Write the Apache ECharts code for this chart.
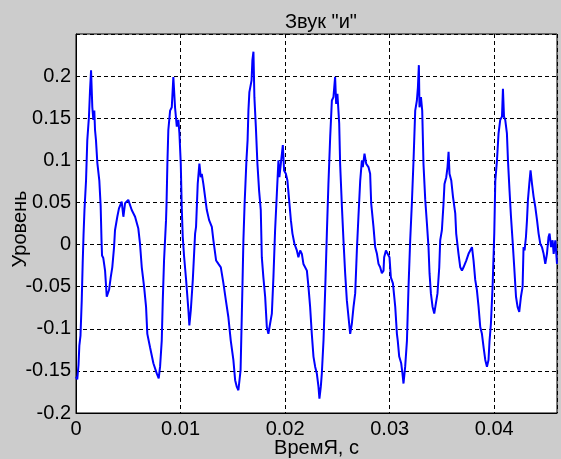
<!DOCTYPE html>
<html>
<head>
<meta charset="utf-8">
<script src="https://cdn.jsdelivr.net/npm/echarts@6/dist/echarts.min.js"></script>
<style>
html,body{margin:0;padding:0;background:#cccccc;}
#chart{width:561px;height:459px;}
</style>
</head>
<body>
<div id="chart"></div>
<script>
const titleText = 'Звук "и"';
const xName = 'ВремЯ, с';
const yName = 'Уровень';
const xTicks = [0, 0.01, 0.02, 0.03, 0.04];
const yTicks = [-0.2, -0.15, -0.1, -0.05, 0, 0.05, 0.1, 0.15, 0.2];

// time in milliseconds
const timeMs = [
0, 0.12, 0.24, 0.32, 0.43, 0.55, 0.64, 0.72, 0.81, 0.96,
1.08, 1.24, 1.34, 1.44, 1.56, 1.66, 1.75, 1.82, 1.91, 2.04,
2.23, 2.36, 2.44, 2.49, 2.61, 2.78, 2.94, 3.16, 3.32, 3.47,
3.64, 3.73, 3.95, 4.11, 4.37, 4.53, 4.69, 5.00, 5.33, 5.65,
5.96, 6.12, 6.29, 6.51, 6.70, 6.82, 7.08, 7.40, 7.72, 7.91,
8.04, 8.20, 8.30, 8.42, 8.61, 8.66, 8.74, 8.83, 9.00, 9.16,
9.31, 9.47, 9.64, 9.79, 9.89, 10.02, 10.11, 10.21, 10.33, 10.53,
10.75, 10.84, 10.98, 11.17, 11.39, 11.48, 11.64, 11.80, 11.93, 12.03,
12.18, 12.34, 12.51, 12.73, 12.99, 13.14, 13.40, 13.62, 13.85, 14.10,
14.33, 14.57, 14.80, 15.05, 15.22, 15.38, 15.53, 15.65, 15.74, 15.86,
15.91, 16.01, 16.12, 16.30, 16.41, 16.49, 16.58, 16.72, 16.79, 16.87,
16.97, 17.06, 17.20, 17.35, 17.51, 17.67, 17.77, 17.92, 18.09, 18.25,
18.40, 18.56, 18.73, 18.88, 19.04, 19.21, 19.36, 19.45, 19.59, 19.78,
19.90, 20.07, 20.22, 20.38, 20.55, 20.70, 20.89, 21.12, 21.27, 21.44,
21.60, 21.75, 22.08, 22.23, 22.39, 22.55, 22.71, 22.87, 23.03, 23.19,
23.28, 23.41, 23.51, 23.67, 23.83, 23.99, 24.14, 24.31, 24.47, 24.62,
24.78, 24.88, 25.00, 25.17, 25.26, 25.43, 25.58, 25.74, 25.90, 26.06,
26.22, 26.38, 26.54, 26.70, 26.86, 27.01, 27.18, 27.34, 27.43, 27.59,
27.75, 27.97, 28.13, 28.23, 28.45, 28.61, 28.78, 28.93, 29.09, 29.25,
29.41, 29.47, 29.64, 29.83, 29.98, 30.11, 30.31, 30.53, 30.69, 30.77,
30.91, 31.10, 31.22, 31.32, 31.48, 31.65, 31.80, 31.96, 32.12, 32.28,
32.44, 32.60, 32.70, 32.79, 32.85, 32.99, 33.11, 33.23, 33.40, 33.56,
33.71, 33.81, 33.94, 34.10, 34.26, 34.45, 34.57, 34.74, 34.83, 34.99,
35.15, 35.24, 35.41, 35.53, 35.63, 35.72, 35.89, 36.05, 36.27, 36.36,
36.58, 36.75, 36.91, 37.06, 37.32, 37.54, 37.87, 38.02, 38.18, 38.34,
38.50, 38.66, 38.82, 38.98, 39.14, 39.30, 39.45, 39.55, 39.68, 39.84,
40.00, 40.10, 40.26, 40.41, 40.57, 40.74, 40.83, 40.93, 41.05, 41.21,
41.31, 41.46, 41.60, 41.75, 41.91, 42.08, 42.23, 42.39, 42.55, 42.71,
42.80, 42.90, 43.03, 43.13, 43.22, 43.35, 43.47, 43.61, 43.76, 43.92,
44.09, 44.24, 44.40, 44.56, 44.72, 44.88, 45.04, 45.19, 45.29, 45.43,
45.58, 45.68, 45.84, 46.00
];

const level = [
-0.157, -0.160, -0.143, -0.120, -0.108, -0.066, -0.022, 0.011, 0.041, 0.076,
0.124, 0.152, 0.183, 0.207, 0.163, 0.148, 0.159, 0.136, 0.124, 0.097,
0.076, 0.045, 0.005, -0.013, -0.016, -0.031, -0.062, -0.054, -0.039, -0.027,
-0.003, 0.017, 0.033, 0.043, 0.051, 0.033, 0.049, 0.053, 0.041, 0.033,
0.019, 0.001, -0.027, -0.050, -0.074, -0.106, -0.122, -0.141, -0.153, -0.159,
-0.145, -0.114, -0.066, -0.019, 0.029, 0.049, 0.096, 0.136, 0.159, 0.163,
0.199, 0.163, 0.140, 0.148, 0.132, 0.096, 0.045, 0.009, -0.013, -0.042,
-0.078, -0.096, -0.078, -0.042, 0.013, 0.021, 0.072, 0.096, 0.080, 0.084,
0.072, 0.057, 0.041, 0.029, 0.021, 0.005, -0.019, -0.023, -0.027, -0.046,
-0.066, -0.086, -0.114, -0.137, -0.161, -0.169, -0.173, -0.175, -0.149, -0.082,
-0.054, 0.005, 0.047, 0.100, 0.124, 0.159, 0.181, 0.183, 0.195, 0.219,
0.229, 0.175, 0.140, 0.096, 0.064, 0.041, -0.015, -0.039, -0.062, -0.098,
-0.106, -0.094, -0.082, -0.039, 0.017, 0.061, 0.100, 0.080, 0.096, 0.118,
0.088, 0.084, 0.076, 0.053, 0.029, 0.013, 0.001, -0.007, -0.015, -0.007,
-0.011, -0.023, -0.031, -0.050, -0.074, -0.106, -0.133, -0.145, -0.153, -0.169,
-0.183, -0.169, -0.153, -0.114, -0.054, 0.013, 0.072, 0.128, 0.171, 0.175,
0.199, 0.167, 0.179, 0.144, 0.096, 0.045, 0.005, -0.034, -0.066, -0.086,
-0.106, -0.094, -0.074, -0.058, -0.007, 0.033, 0.076, 0.100, 0.092, 0.108,
0.096, 0.092, 0.084, 0.049, 0.021, -0.003, -0.011, -0.023, -0.027, -0.034,
-0.031, -0.015, -0.007, -0.007, -0.015, -0.039, -0.046, -0.074, -0.106, -0.114,
-0.133, -0.141, -0.153, -0.165, -0.145, -0.114, -0.050, 0.005, 0.049, 0.100,
0.159, 0.171, 0.187, 0.213, 0.163, 0.175, 0.159, 0.096, 0.053, 0.025,
-0.003, -0.034, -0.058, -0.074, -0.082, -0.082, -0.058, -0.027, 0.005, 0.017,
0.049, 0.072, 0.080, 0.092, 0.110, 0.084, 0.076, 0.057, 0.037, 0.013,
-0.011, -0.027, -0.031, -0.027, -0.019, -0.011, -0.003, -0.019, -0.042, -0.054,
-0.074, -0.098, -0.106, -0.122, -0.137, -0.145, -0.137, -0.114, -0.094, -0.050,
0.013, 0.076, 0.100, 0.132, 0.148, 0.152, 0.185, 0.152, 0.148, 0.132,
0.100, 0.064, 0.033, 0.005, -0.027, -0.062, -0.074, -0.080, -0.062, -0.050,
-0.003, -0.007, 0.009, 0.029, 0.053, 0.072, 0.088, 0.072, 0.057, 0.045,
0.029, 0.013, 0.001, -0.003, -0.011, -0.023, -0.011, 0.009, 0.013, -0.003,
0.005, -0.011, 0.005, -0.023
];

const data = timeMs.map((t, i) => [t / 1000, level[i]]);
const FONT = '"Liberation Sans", Arial, sans-serif';
const fmt = v => String(Math.round(v * 1000) / 1000);

const chart = echarts.init(document.getElementById('chart'), null, {renderer: 'canvas'});
chart.setOption({
  backgroundColor: '#cccccc',
  animation: false,
  title: {
    text: titleText,
    left: 316,
    textAlign: 'center',
    top: 7,
    textStyle: {fontFamily: FONT, fontSize: 20, fontWeight: 'normal', color: '#000'}
  },
  grid: {
    left: 76, right: 4, top: 34, bottom: 46,
    containLabel: false,
    outerBoundsMode: 'none',
    show: true, backgroundColor: '#ffffff', borderColor: '#000', borderWidth: 1
  },
  xAxis: {
    type: 'value',
    min: 0, max: 0.046, interval: 0.01,
    name: xName,
    nameLocation: 'middle',
    nameGap: 25,
    nameMoveOverlap: false,
    nameTextStyle: {fontFamily: FONT, fontSize: 20, color: '#000'},
    axisLine: {show: true, onZero: false, lineStyle: {color: '#000', width: 1}},
    axisTick: {show: false},
    axisLabel: {
      margin: 6, fontFamily: FONT, fontSize: 20, color: '#000',
      showMaxLabel: false,
      formatter: v => (xTicks.some(t => Math.abs(t - v) < 1e-9) ? fmt(v) : '')
    },
    splitLine: {show: true, lineStyle: {color: '#000', type: [4, 3], width: 1}}
  },
  yAxis: {
    type: 'value',
    min: -0.2, max: 0.25, interval: 0.05,
    name: yName,
    nameLocation: 'middle',
    nameGap: 46,
    nameMoveOverlap: false,
    nameTextStyle: {fontFamily: FONT, fontSize: 20, color: '#000', padding: [0, 11, 0, 0]},
    axisLine: {show: true, onZero: false, lineStyle: {color: '#000', width: 1}},
    axisTick: {show: false},
    axisLabel: {
      margin: 5, fontFamily: FONT, fontSize: 20, color: '#000',
      formatter: v => (yTicks.some(t => Math.abs(t - v) < 1e-9) ? fmt(v) : '')
    },
    splitLine: {show: true, lineStyle: {color: '#000', type: [4, 3], width: 1}}
  },
  series: [{
    type: 'line',
    data: data,
    showSymbol: false,
    symbol: 'none',
    lineStyle: {color: '#0000ff', width: 2},
    clip: true
  }]
});
</script>
</body>
</html>
